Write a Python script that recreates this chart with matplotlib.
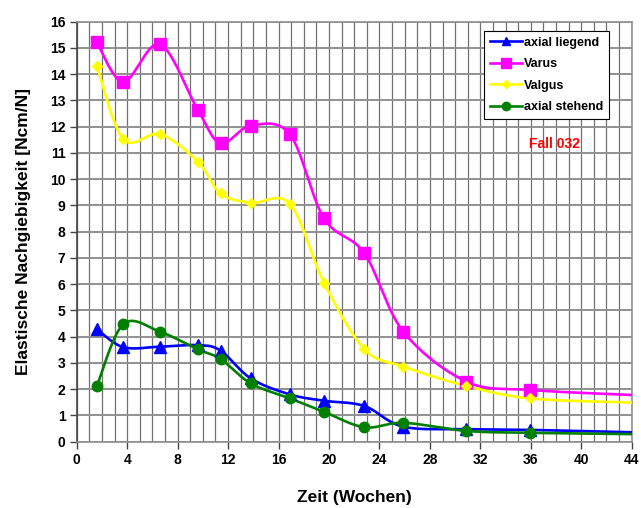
import numpy as np
import matplotlib
matplotlib.use("Agg")
import matplotlib.pyplot as plt
from matplotlib.lines import Line2D

plt.rcParams['font.family'] = ['Liberation Sans', 'DejaVu Sans']

# Data (weeks)
weeks = [1.6, 3.7, 6.6, 9.6, 11.4, 13.8, 16.9, 19.6, 22.8, 25.9, 30.9, 35.9, 44.0]
axial_liegend = [4.28, 3.60, 3.62, 3.68, 3.47, 2.41, 1.80, 1.56, 1.36, 0.57, 0.48, 0.45, 0.36]
varus = [15.21, 13.71, 15.14, 12.64, 11.37, 12.04, 11.71, 8.51, 7.18, 4.19, 2.29, 1.97, 1.78]
valgus = [14.31, 11.52, 11.71, 10.67, 9.46, 9.10, 9.06, 6.06, 3.53, 2.86, 2.12, 1.65, 1.49]
axial_stehend = [2.12, 4.48, 4.19, 3.52, 3.15, 2.22, 1.65, 1.14, 0.55, 0.72, 0.41, 0.34, 0.29]

series_names = ["axial liegend", "Varus", "Valgus", "axial stehend"]
x_ticks = list(range(0, 45, 4))
y_ticks = list(range(0, 17, 1))


def smooth(xs, ys, n=30):
    pts = np.column_stack([xs, ys]).astype(float)
    p = np.vstack([pts[0], pts, pts[-1]])
    out = []
    t = np.linspace(0, 1, n, endpoint=False)[:, None]
    for i in range(1, len(p) - 2):
        p0, p1, p2, p3 = p[i - 1], p[i], p[i + 1], p[i + 2]
        c1 = p1 + (p2 - p0) / 6.0
        c2 = p2 - (p3 - p1) / 6.0
        seg = ((1 - t) ** 3) * p1 + 3 * ((1 - t) ** 2) * t * c1 + 3 * (1 - t) * t ** 2 * c2 + t ** 3 * p2
        out.append(seg)
    out.append(pts[-1][None, :])
    a = np.vstack(out)
    return a[:, 0], a[:, 1]


fig = plt.figure(figsize=(6.41, 5.08), dpi=100)
ax = fig.add_axes([0.1197, 0.1305, 0.8658, 0.8268])

styles = [
    (axial_liegend, '#0000FF', '^', 8),
    (varus, '#FF00FF', 's', 8.5),
    (valgus, '#FFFF00', 'D', 5.5),
    (axial_stehend, '#008000', 'o', 7.5),
]

handles = []
nmark = len(weeks) - 1
for (vals, col, mk, ms), name in zip(styles, series_names):
    sx, sy = smooth(weeks, vals)
    ax.plot(sx, sy, color=col, lw=1.9, zorder=3, solid_capstyle='round')
    ax.plot(weeks[:nmark], vals[:nmark], linestyle='none', marker=mk, ms=ms,
            color=col, markeredgecolor=col, zorder=4)
    handles.append(Line2D([], [], color=col, lw=1.9, marker=mk, ms=ms * 0.8,
                          markeredgecolor=col, label=name))

ax.set_xlim(0, 44)
ax.set_ylim(0, 16)
ax.set_xticks(x_ticks)
ax.set_yticks(y_ticks)
ax.set_xticks(np.arange(0, 45, 1), minor=True)
ax.tick_params(axis='x', which='minor', length=0)
ax.tick_params(axis='both', which='major', length=5, width=1, color='#444444',
               labelsize=10, pad=3)
for lab in ax.get_xticklabels() + ax.get_yticklabels():
    lab.set_fontweight('bold')

ax.grid(True, axis='x', which='both', color='#707070', lw=0.9, zorder=1)
ax.grid(True, axis='y', which='major', color='#909090', lw=1.4, zorder=1)
ax.set_axisbelow(True)
for s in ax.spines.values():
    s.set_color('#909090')
    s.set_linewidth(1.2)
ax.spines['left'].set_color('#444444')

ax.set_xlabel("Zeit (Wochen)", fontsize=12.5, fontweight='bold', labelpad=17)
ax.set_ylabel("Elastische Nachgiebigkeit [Ncm/N]", fontsize=12.5, fontweight='bold', labelpad=14)

leg = ax.legend(handles=handles, loc='upper left', bbox_to_anchor=(0.733, 0.979),
                prop={'weight': 'bold', 'size': 9}, frameon=True, fancybox=False,
                edgecolor='black', framealpha=1, handlelength=2.6, handletextpad=0.1,
                borderpad=0.5, labelspacing=0.75, borderaxespad=0)
leg.get_frame().set_linewidth(0.8)
leg.set_zorder(10)

ax.text(0.860, 0.708, "Fall 032", transform=ax.transAxes, color='#FF0000',
        fontsize=10, fontweight='bold', ha='center', va='center', zorder=10)

fig.savefig("out.png", dpi=100, facecolor='white')
